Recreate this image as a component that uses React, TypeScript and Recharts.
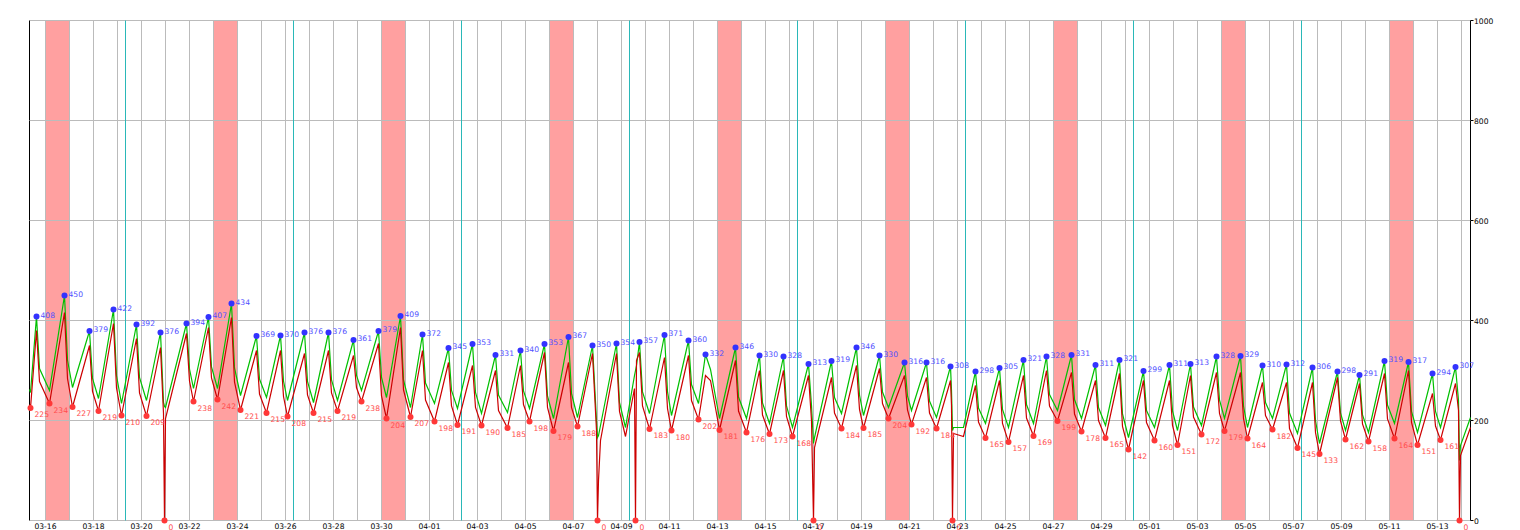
import {
  ComposedChart,
  Line,
  XAxis,
  YAxis,
  ReferenceArea,
  ReferenceLine,
} from "recharts";

// hours are counted from 03-16 00:00
const peakHours = [
  -9, 19, 44, 68, 91, 115, 141, 163, 186, 211, 235, 259, 283, 308, 333, 355, 377, 403, 427, 450,
  475, 499, 523, 547, 571, 594, 619, 643, 660, 690, 714, 738, 763, 786, 811, 834, 859, 881, 905, 930,
  954, 978, 1001, 1026, 1050, 1074, 1098, 1124, 1145, 1171, 1195, 1217, 1241, 1267, 1292, 1314, 1339, 1363, 1387, 1410,
];
const peakValues = [
  408, 450, 379, 422, 392, 376, 394, 407, 434, 369, 370, 376, 376, 361, 379, 409, 372, 345, 353, 331,
  340, 353, 367, 350, 354, 357, 371, 360, 332, 346, 330, 328, 313, 319, 346, 330, 316, 316, 308, 298,
  305, 321, 328, 331, 311, 321, 299, 311, 313, 328, 329, 310, 312, 306, 298, 291, 319, 317, 294, 307,
];
const redAtPeak = [
  380, 416, 350, 394, 364, 346, 374, 386, 406, 340, 340, 334, 340, 330, 354, 386, 340, 316, 310, 300,
  310, 336, 316, 334, 334, 336, 326, 330, 290, 320, 300, 300, 290, 286, 310, 304, 290, 286, 280, 270,
  280, 290, 300, 296, 280, 294, 280, 280, 290, 296, 296, 276, 276, 276, 286, 274, 294, 300, 254, 274,
];

const lowHours = [
  -15, 4, 27, 53, 76, 101, 119, 148, 172, 195, 221, 242, 268, 292, 316, 341, 365, 389, 412, 436,
  462, 484, 508, 532, 552, 590, 604, 626, 653, 674, 701, 724, 747, 768, 796, 818, 843, 866, 891, 907,
  940, 963, 988, 1012, 1036, 1060, 1083, 1109, 1132, 1156, 1179, 1202, 1227, 1252, 1274, 1300, 1323, 1349, 1372, 1395, 1414,
];
const lowValues = [
  225, 234, 227, 219, 210, 209, 0, 238, 242, 221, 215, 208, 215, 219, 238, 204, 207, 198, 191, 190,
  185, 198, 179, 188, 0, 0, 183, 180, 202, 181, 176, 173, 168, 0, 184, 185, 204, 192, 184, 0,
  165, 157, 169, 199, 178, 165, 142, 160, 151, 172, 179, 164, 182, 145, 133, 162, 158, 164, 151, 161, 0,
];
const greenAtLow = [
  256, 260, 266, 244, 234, 240, 228, 264, 264, 250, 246, 240, 236, 240, 260, 246, 226, 234, 224, 214,
  216, 224, 204, 206, 166, 300, 214, 210, 234, 204, 204, 194, 186, 154, 214, 210, 226, 220, 206, 180,
  194, 186, 194, 220, 204, 190, 166, 186, 180, 190, 204, 186, 204, 174, 154, 180, 176, 194, 176, 186, 120,
];

// a few hours after each evening peak, where the fall is steepest
const fallHours = [
  -6, 22, 47, 71, 94, 144, 166, 189, 214, 238, 262, 286, 311, 336, 358, 380, 406, 430, 453, 478,
  502, 526, 574, 597, 622, 646, 693, 717, 741, 789, 814, 837, 862, 884, 933, 957, 981, 1004, 1029, 1053,
  1077, 1101, 1127, 1148, 1174, 1198, 1220, 1244, 1270, 1295, 1317, 1342, 1366, 1390,
];
const fallGreen = [
  304, 321, 284, 290, 286, 303, 307, 305, 283, 279, 278, 281, 290, 286, 281, 275, 260, 256, 251, 259,
  249, 254, 236, 257, 258, 272, 247, 235, 229, 246, 251, 257, 249, 239, 225, 222, 232, 252, 242, 226,
  213, 220, 219, 227, 241, 229, 236, 215, 200, 215, 211, 231, 218, 218,
];
const fallRed = [
  278, 284, 258, 265, 255, 279, 285, 277, 253, 248, 251, 255, 266, 249, 261, 241, 229, 226, 220, 232,
  226, 226, 218, 229, 224, 240, 219, 211, 208, 215, 222, 234, 221, 215, 197, 194, 205, 229, 213, 200,
  188, 196, 190, 207, 214, 204, 210, 184, 176, 199, 193, 203, 196, 189,
];

// edges and the points around the drop-outs
const extraHours = [-16, 118, 120, 551, 553, 555, 580, 589, 591, 665, 766, 769, 906, 908, 918, 1413, 1415, 1425];
const extraGreen = [262, 236, 226, 200, 170, 190, 186, 290, 310, 302, 230, 166, 260, 186, 186, 240, 150, 206];
const extraRed = [232, 214, 204, 180, 80, 160, 168, 264, 320, 280, 200, 146, 230, 174, 168, 220, 130, 186];

const tickLabels = [
  "03-16", "03-18", "03-20", "03-22", "03-24", "03-26", "03-28", "03-30", "04-01", "04-03",
  "04-05", "04-07", "04-09", "04-11", "04-13", "04-15", "04-17", "04-19", "04-21", "04-23",
  "04-25", "04-27", "04-29", "05-01", "05-03", "05-05", "05-07", "05-09", "05-11", "05-13",
];
const shadedHours = [0, 168, 336, 504, 672, 840, 1008, 1176, 1344];
const weekHours = [80, 248, 416, 584, 752, 920, 1088, 1256];
const yTicks = [0, 200, 400, 600, 800, 1000];

type Row = { t: number; green: number; red: number; peak?: number; low?: number };

const rows: Row[] = [
  ...peakHours.map((t, i) => ({ t, green: peakValues[i], red: redAtPeak[i], peak: peakValues[i] })),
  ...lowHours.map((t, i) => ({ t, green: greenAtLow[i], red: lowValues[i], low: lowValues[i] })),
  ...fallHours.map((t, i) => ({ t, green: fallGreen[i], red: fallRed[i] })),
  ...extraHours.map((t, i) => ({ t, green: extraGreen[i], red: extraRed[i] })),
].sort((a, b) => a.t - b.t);

const dayTicks = Array.from({ length: 60 }, (_, i) => i * 24);
const FONT = "DejaVu Sans";

const XTick = (props: any) => {
  const day = Math.round(props.payload.value / 24);
  if (day % 2 !== 0) return <g />;
  return (
    <text x={props.x} y={529} textAnchor="middle" fontFamily={FONT} fontSize={7.6} fill="#000">
      {tickLabels[day / 2]}
    </text>
  );
};

const YTick = (props: any) => (
  <g>
    <line x1={1470.5} x2={1473.5} y1={props.y} y2={props.y} stroke="#000" />
    <text x={1474} y={props.y + 3} fontFamily={FONT} fontSize={7.6} fill="#000">
      {props.payload.value}
    </text>
  </g>
);

const makeDot = (fill: string, text: string, dy: number) => (p: any) => {
  if (p.value == null || p.cy == null) return <g key={`d${p.index}`} />;
  return (
    <g key={`d${p.index}`}>
      <circle cx={p.cx} cy={p.cy} r={3} fill={fill} />
      <text x={p.cx + 4} y={p.cy + dy} fontFamily={FONT} fontSize={7.6} fill={text}>
        {p.value}
      </text>
    </g>
  );
};

export default function App() {
  return (
    <div style={{ position: "absolute", left: 0, top: 0, width: 1520, height: 530, overflow: "hidden", background: "#fff" }}>
      <ComposedChart
        width={1520}
        height={530}
        data={rows}
        margin={{ top: 20.5, left: 29.5, right: 0, bottom: 0 }}
      >
        <XAxis
          dataKey="t"
          type="number"
          domain={[-16, 1425]}
          ticks={dayTicks}
          interval={0}
          height={9.5}
          tick={<XTick />}
          tickLine={false}
          axisLine={false}
        />
        <YAxis
          orientation="right"
          domain={[0, 1000]}
          ticks={yTicks}
          width={49.5}
          tick={<YTick />}
          tickLine={false}
          axisLine={false}
        />
        {shadedHours.map((h) => (
          <ReferenceArea key={`s${h}`} x1={h} x2={h + 24} y1={0} y2={1000} fill="#ffa0a0" fillOpacity={1} stroke="none" />
        ))}
        {dayTicks.map((h) => (
          <ReferenceLine key={`v${h}`} x={h} stroke="#bbbbbb" />
        ))}
        {yTicks.map((v) => (
          <ReferenceLine key={`h${v}`} y={v} stroke="#bbbbbb" />
        ))}
        {weekHours.map((h) => (
          <ReferenceLine key={`w${h}`} x={h} stroke="#2ab8b8" />
        ))}
        <ReferenceArea x1={-16} x2={1425} y1={0} y2={1000} fill="none" stroke="#000" />
        <Line dataKey="green" type="linear" stroke="#00c000" strokeWidth={1.2} dot={false} isAnimationActive={false} />
        <Line dataKey="red" type="linear" stroke="#cc0000" strokeWidth={1.2} dot={false} isAnimationActive={false} />
        <Line
          dataKey="peak"
          stroke="none"
          connectNulls={false}
          dot={makeDot("#3333ff", "#5050ff", 1)}
          activeDot={false}
          isAnimationActive={false}
        />
        <Line
          dataKey="low"
          stroke="none"
          connectNulls={false}
          dot={makeDot("#ff3838", "#ff4d4d", 9)}
          activeDot={false}
          isAnimationActive={false}
        />
      </ComposedChart>
    </div>
  );
}
